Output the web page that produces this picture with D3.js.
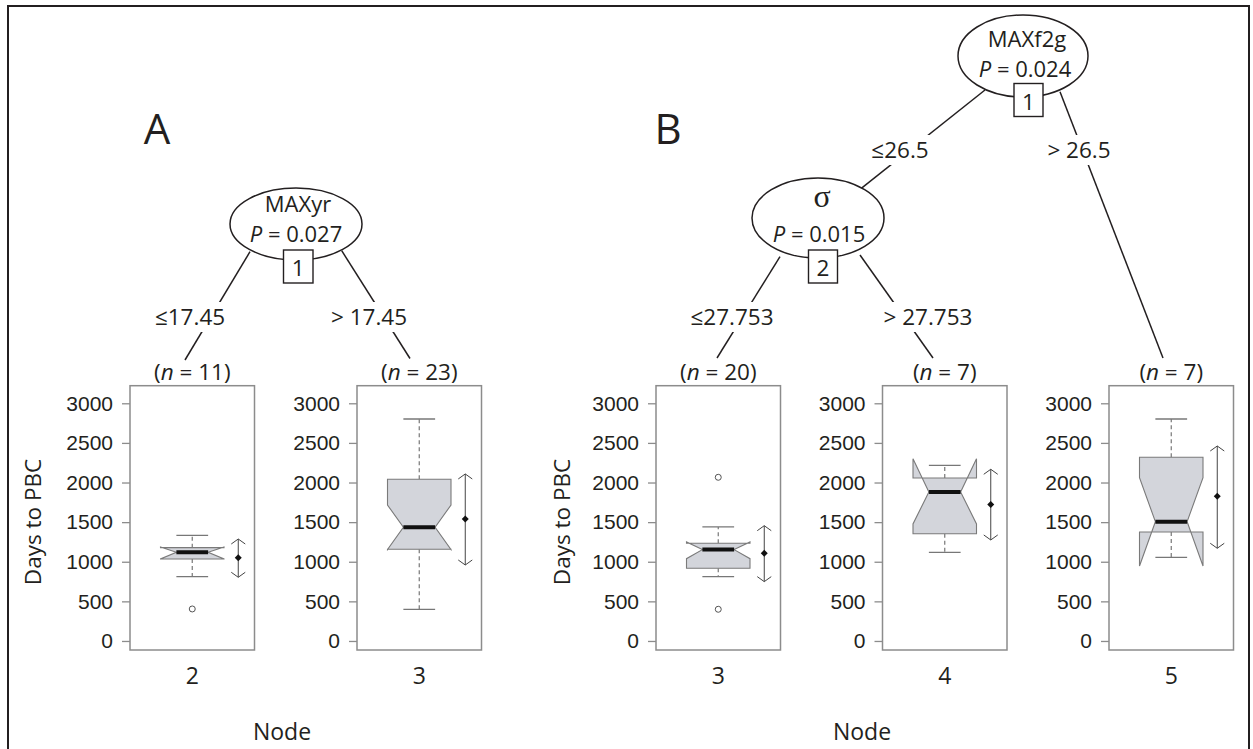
<!DOCTYPE html>
<html>
<head>
<meta charset="utf-8">
<script src="https://cdn.jsdelivr.net/npm/d3@7"></script>
<style>
  html, body { margin: 0; padding: 0; background: #fff; }
  svg { display: block; }
</style>
</head>
<body>
<svg id="chart" width="1253" height="749"></svg>
<script>
// ---------------- DATA ----------------
const panelNames   = ["A", "B"];
const nodeLabels   = ["2", "3", "3", "4", "5"];
const nodePanel    = ["A", "A", "B", "B", "B"];
const nCounts      = [11, 23, 20, 7, 7];
const whiskerLow   = [812, 400, 812, 1119, 1056];
const q1           = [1035, 1157, 917, 1354, 1376];
const medians      = [1119, 1435, 1153, 1881, 1506];
const q3           = [1178, 2041, 1233, 2057, 2318];
const whiskerHigh  = [1334, 2802, 1439, 2217, 2802];
const notchLow     = [1036, 1155, 1039, 1477, 947];
const notchHigh    = [1186, 1716, 1250, 2301, 2061];
const outliers     = [[404], [], [2066, 400], [], []];
const means        = [1051, 1540, 1107, 1721, 1826];
const meanLow      = [804, 959, 749, 1275, 1170];
const meanHigh     = [1287, 2108, 1455, 2167, 2461];
const yTicks       = [0, 500, 1000, 1500, 2000, 2500, 3000];
const yTitle       = "Days to PBC";
const xTitle       = "Node";

// tree content
const innerVars    = ["MAXyr", "MAXf2g", "σ"];
const innerP       = ["0.027", "0.024", "0.015"];
const innerIds     = ["1", "1", "2"];
const splitLabels  = ["≤17.45", "> 17.45", "≤26.5", "> 26.5", "≤27.753", "> 27.753"];

// ---------------- LAYOUT (positions / styles) ----------------
const ink = "#231f20";
const frameGray = "#8c8c8c";
const boxFill = "#d3d5db";
const sansFont = "'Open Sans', 'Noto Sans', sans-serif";
const tickFont = "'Liberation Sans', Arial, sans-serif";
const txt = 22.5;
const nodeTxt = 22;

const panelLayout = {
  A: { range: [130, 481.5], letter: [157, 144], yTitleX: 32, xTitleX: 282 },
  B: { range: [656, 1233.5], letter: [668, 144], yTitleX: 561, xTitleX: 862 }
};
const frameTop = 385.7, frameBottom = 650;

const innerLayout = [
  { cx: 296, cy: 224, rx: 66, ry: 36, tx: 298, l1: 211.5, l2: 242, px: 296, box: [283.5, 250, 29.5, 33], varFont: sansFont, varSize: nodeTxt },
  { cx: 1023, cy: 56, rx: 65, ry: 41, tx: 1027, l1: 46.5, l2: 77, px: 1025, box: [1014, 83.5, 29, 33], varFont: sansFont, varSize: nodeTxt },
  { cx: 818, cy: 218, rx: 66, ry: 40, tx: 822, l1: 207, l2: 242, px: 819, box: [808.5, 250, 29, 33], varFont: "'Liberation Serif', 'DejaVu Serif', serif", varSize: 32 }
];
const edgeLayout = [
  { from: [250, 251.7], to: [185, 360], lab: [190, 325] },
  { from: [341.7, 250.7], to: [410, 358.5], lab: [369, 325] },
  { from: [985, 90], to: [860, 189.3], lab: [900, 158] },
  { from: [1060, 91.7], to: [1163, 358], lab: [1079, 158] },
  { from: [780, 256.7], to: [717, 358], lab: [732, 325] },
  { from: [860, 255], to: [933, 358], lab: [928, 325] }
];

// ---------------- DRAW ----------------
const svg = d3.select("#chart");

// outer border
svg.append("rect").attr("x", 8).attr("y", 6).attr("width", 1241).attr("height", 800)
  .attr("fill", "none").attr("stroke", ink).attr("stroke-width", 2);

const y = d3.scaleLinear().domain([-114, 3222]).range([frameBottom, frameTop]);

// band scales per panel
const xScales = {};
panelNames.forEach(p => {
  const idx = nodePanel.map((d, i) => d === p ? i : -1).filter(i => i >= 0);
  const dom = idx.map(i => p + i);
  const k = dom.length;
  const r = panelLayout[p].range;
  const W = r[1] - r[0];
  const pad = (W - 124.5 * k) / (W - 124.5);
  xScales[p] = d3.scaleBand().domain(dom).range(r).paddingInner(pad).paddingOuter(0);
});

// panel titles etc.
panelNames.forEach(p => {
  const L = panelLayout[p];
  svg.append("text").attr("x", L.letter[0]).attr("y", L.letter[1])
    .attr("text-anchor", "middle").attr("font-family", sansFont).attr("font-size", 42)
    .attr("fill", ink).text(p);
  svg.append("text")
    .attr("transform", `translate(${L.yTitleX},522) rotate(-90)`)
    .attr("text-anchor", "middle").attr("dominant-baseline", "central")
    .attr("font-family", sansFont).attr("font-size", 22.5).attr("fill", ink).text(yTitle);
  svg.append("text").attr("x", L.xTitleX).attr("y", 740)
    .attr("text-anchor", "middle").attr("font-family", sansFont).attr("font-size", 23)
    .attr("fill", ink).text(xTitle);
});

// tree edges (lines under labels)
const edgeG = svg.append("g");
edgeLayout.forEach((e, i) => {
  edgeG.append("line").attr("x1", e.from[0]).attr("y1", e.from[1])
    .attr("x2", e.to[0]).attr("y2", e.to[1])
    .attr("stroke", ink).attr("stroke-width", 1.5);
});
edgeLayout.forEach((e, i) => {
  const g = edgeG.append("g");
  const t = g.append("text").attr("x", e.lab[0]).attr("y", e.lab[1])
    .attr("text-anchor", "middle").attr("font-family", sansFont).attr("font-size", txt)
    .attr("fill", ink).text(splitLabels[i]);
  const bb = t.node().getBBox();
  g.insert("rect", "text").attr("x", bb.x - 2).attr("y", bb.y + 1)
    .attr("width", bb.width + 4).attr("height", bb.height - 1).attr("fill", "#fff");
});

// inner nodes
innerLayout.forEach((n, i) => {
  const g = svg.append("g");
  g.append("ellipse").attr("cx", n.cx).attr("cy", n.cy).attr("rx", n.rx).attr("ry", n.ry)
    .attr("fill", "#fff").attr("stroke", ink).attr("stroke-width", 1.5);
  g.append("text").attr("x", n.tx).attr("y", n.l1).attr("text-anchor", "middle")
    .attr("font-family", n.varFont).attr("font-size", n.varSize).attr("fill", ink).text(innerVars[i]);
  const pt = g.append("text").attr("x", n.px).attr("y", n.l2).attr("text-anchor", "middle")
    .attr("font-family", sansFont).attr("font-size", nodeTxt).attr("fill", ink);
  pt.append("tspan").attr("font-style", "italic").text("P");
  pt.append("tspan").text(" = " + innerP[i]);
  g.append("rect").attr("x", n.box[0]).attr("y", n.box[1]).attr("width", n.box[2]).attr("height", n.box[3])
    .attr("fill", "#fff").attr("stroke", ink).attr("stroke-width", 1.4);
  g.append("text").attr("x", n.box[0] + n.box[2] / 2).attr("y", n.box[1] + n.box[3] / 2 + 1)
    .attr("text-anchor", "middle").attr("dominant-baseline", "central")
    .attr("font-family", sansFont).attr("font-size", txt).attr("fill", ink).text(innerIds[i]);
});

// terminal panels
nodeLabels.forEach((lab, i) => {
  const p = nodePanel[i];
  const xs = xScales[p];
  const x0 = xs(p + i), bw = xs.bandwidth();
  const xc = x0 + bw / 2;
  const g = svg.append("g");

  // n label
  const nt = g.append("text").attr("x", xc).attr("y", 380).attr("text-anchor", "middle")
    .attr("font-family", sansFont).attr("font-size", txt).attr("fill", ink);
  nt.append("tspan").text("(");
  nt.append("tspan").attr("font-style", "italic").text("n");
  nt.append("tspan").text(" = " + nCounts[i] + ")");

  // axis
  const ax = g.append("g").attr("transform", `translate(${x0},0)`)
    .call(d3.axisLeft(y).tickValues(yTicks).tickSize(8).tickPadding(9).tickFormat(d3.format("d")));
  ax.select(".domain").remove();
  ax.selectAll(".tick line").attr("stroke", frameGray).attr("stroke-width", 1.3);
  ax.selectAll(".tick text").attr("font-family", tickFont).attr("font-size", 21).attr("fill", ink);

  // frame
  g.append("rect").attr("x", x0).attr("y", frameTop).attr("width", bw).attr("height", frameBottom - frameTop)
    .attr("fill", "none").attr("stroke", frameGray).attr("stroke-width", 1.5);

  // x label
  g.append("text").attr("x", xc).attr("y", 684).attr("text-anchor", "middle")
    .attr("font-family", sansFont).attr("font-size", 23).attr("fill", ink).text(lab);

  const hw = bw * 0.255;  // box half-width
  const iw = hw / 2;      // notch inner half width / cap half width

  // whiskers
  g.append("line").attr("x1", xc).attr("x2", xc).attr("y1", y(q3[i])).attr("y2", y(whiskerHigh[i]))
    .attr("stroke", "#777").attr("stroke-width", 1.2).attr("stroke-dasharray", "4,3");
  g.append("line").attr("x1", xc).attr("x2", xc).attr("y1", y(q1[i])).attr("y2", y(whiskerLow[i]))
    .attr("stroke", "#777").attr("stroke-width", 1.2).attr("stroke-dasharray", "4,3");
  [whiskerHigh[i], whiskerLow[i]].forEach(v => {
    g.append("line").attr("x1", xc - iw).attr("x2", xc + iw).attr("y1", y(v)).attr("y2", y(v))
      .attr("stroke", "#777").attr("stroke-width", 1.3);
  });

  // notched box polygon (R style)
  const xl = xc - hw, xr = xc + hw;
  const pts = [
    [xl, y(q1[i])], [xl, y(notchLow[i])], [xc - iw, y(medians[i])], [xl, y(notchHigh[i])], [xl, y(q3[i])],
    [xr, y(q3[i])], [xr, y(notchHigh[i])], [xc + iw, y(medians[i])], [xr, y(notchLow[i])], [xr, y(q1[i])]
  ];
  g.append("polygon").attr("points", pts.map(d => d.join(",")).join(" "))
    .attr("fill", boxFill).attr("stroke", "#7a7a7a").attr("stroke-width", 1.1);
  // median
  g.append("line").attr("x1", xc - iw).attr("x2", xc + iw).attr("y1", y(medians[i])).attr("y2", y(medians[i]))
    .attr("stroke", "#111").attr("stroke-width", 4);

  // outliers
  outliers[i].forEach(v => {
    g.append("circle").attr("cx", xc).attr("cy", y(v)).attr("r", 3)
      .attr("fill", "#fff").attr("stroke", "#555").attr("stroke-width", 1);
  });

  // mean +/- interval arrow
  const mx = xc + 46;
  const ac = "#444";
  g.append("line").attr("x1", mx).attr("x2", mx).attr("y1", y(meanHigh[i])).attr("y2", y(meanLow[i]))
    .attr("stroke", ac).attr("stroke-width", 1);
  const yh = y(meanHigh[i]), yl = y(meanLow[i]);
  g.append("polyline").attr("points", `${mx - 7},${yh + 5} ${mx},${yh} ${mx + 7},${yh + 5}`)
    .attr("fill", "none").attr("stroke", ac).attr("stroke-width", 1);
  g.append("polyline").attr("points", `${mx - 7},${yl - 5} ${mx},${yl} ${mx + 7},${yl - 5}`)
    .attr("fill", "none").attr("stroke", ac).attr("stroke-width", 1);
  const ym = y(means[i]);
  g.append("polygon").attr("points", `${mx},${ym - 3.5} ${mx + 3.5},${ym} ${mx},${ym + 3.5} ${mx - 3.5},${ym}`)
    .attr("fill", "#111");
});
</script>
</body>
</html>
